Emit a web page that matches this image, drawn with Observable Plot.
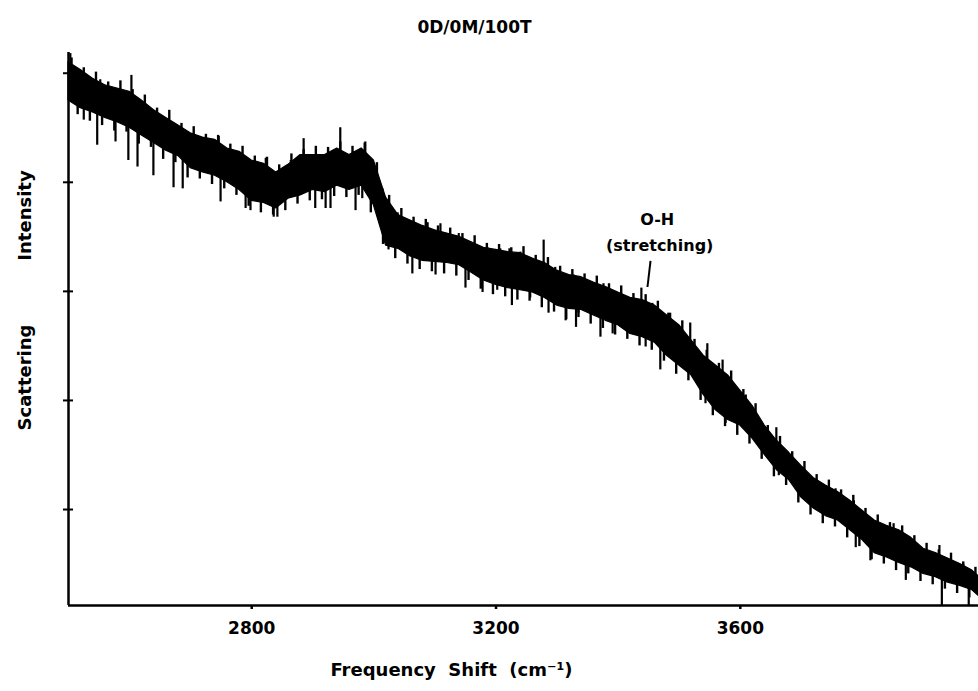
<!DOCTYPE html>
<html><head><meta charset="utf-8">
<script src="https://cdn.jsdelivr.net/npm/d3@7"></script>
<script src="https://cdn.jsdelivr.net/npm/@observablehq/plot@0.6"></script>
<style>body{margin:0;background:#fff}</style>
</head><body><div id="chart"></div>
<script>
const title = "0D/0M/100T";
const xLabel = "Frequency  Shift  (cm⁻¹)";
const yLabelWords = ["Scattering", "Intensity"];
const xTicks = [2800, 3200, 3600];
const yTicks = [100, 200, 300, 400, 500];
const xDomain = [2500, 3990];
const yDomain = [12, 519];

// Raman shift grid (cm-1)
const freq = [2500,2520,2540,2560,2580,2600,2620,2640,2660,2680,2700,2720,2740,2760,2780,2800,2820,2840,2860,2880,2900,2920,2940,2960,2980,3000,3020,3040,3060,3080,3100,3120,3140,3160,3180,3200,3220,3240,3260,3280,3300,3320,3340,3360,3380,3400,3420,3440,3460,3480,3500,3520,3540,3560,3580,3600,3620,3640,3660,3680,3700,3720,3740,3760,3780,3800,3820,3840,3860,3880,3900,3920,3940,3960,3980,3990];
// upper edge of the noisy trace (arb. units)
const upper = [510,503,495,489,486,483,475,466,459,452,445,441,439,431,428,420,417,409,416,425,425,425,431,425,431,420,386,370,365,360,356,353,350,345,340,338,336,335,330,326,319,315,313,308,304,299,294,292,287,278,269,255,241,232,223,209,195,177,163,152,140,129,122,116,108,99,90,85,81,74,64,60,55,50,44,39];
// lower edge of the noisy trace (arb. units)
const lower = [475,468,464,459,455,450,443,436,429,424,413,409,406,400,393,383,381,376,385,388,393,391,397,393,397,379,342,339,332,328,327,326,324,317,310,306,303,301,299,294,287,284,283,278,273,269,261,258,253,241,232,223,205,191,182,177,165,150,136,127,111,101,94,90,81,72,60,56,51,47,41,38,33,30,26,21];

// large noise spikes: position and tip value
const spikeFreq = [2503,2525,2547,2552,2577,2598,2603,2613,2626,2639,2646,2662,2672,2683,2687,2700,2746,2749,2775,2790,2798,2823,2836,2842,2864,2885,2904,2921,2929,2945,2967,2970,2981,2986,3014,3024,3039,3063,3088,3101,3109,3139,3150,3158,3178,3186,3202,3207,3222,3226,3240,3256,3278,3286,3297,3314,3327,3331,3335,3371,3376,3391,3404,3438,3445,3456,3469,3482,3502,3518,3543,3546,3571,3576,3592,3609,3659,3663,3699,3731,3756,3786,3789,3813,3851,3871,3926,3930,3965,3974];
const spikeTip  = [518,457,434,494,437,420,498,414,468,406,460,452,395,450,394,443,442,382,425,376,374,422,368,368,420,440,376,376,376,450,428,374,385,437,394,338,372,316,363,315,362,353,303,345,299,340,301,339,339,287,336,294,347,280,322,273,315,267,280,258,307,261,298,303,249,289,228,280,243,271,197,252,237,179,179,205,175,131,111,117,119,108,65,53,87,35,67,12,50,12];

// small noise teeth along both edges: position and tip value
const teethFreq = [2505,2515,2525,2535,2545,2555,2565,2575,2585,2595,2605,2615,2625,2635,2645,2655,2665,2675,2685,2695,2705,2715,2725,2735,2745,2755,2765,2775,2785,2795,2805,2815,2825,2835,2845,2855,2865,2875,2885,2895,2905,2915,2925,2935,2945,2955,2965,2975,2985,2995,3005,3015,3025,3035,3045,3055,3065,3075,3085,3095,3105,3115,3125,3135,3145,3155,3165,3175,3185,3195,3205,3215,3225,3235,3245,3255,3265,3275,3285,3295,3305,3315,3325,3335,3345,3355,3365,3375,3385,3395,3405,3415,3425,3435,3445,3455,3465,3475,3485,3495,3505,3515,3525,3535,3545,3555,3565,3575,3585,3595,3605,3615,3625,3635,3645,3655,3665,3675,3685,3695,3705,3715,3725,3735,3745,3755,3765,3775,3785,3795,3805,3815,3825,3835,3845,3855,3865,3875,3885,3895,3905,3915,3925,3935,3945,3955,3965,3975,3985];
const teethTip  = [514,462,505,456,501,452,492,447,493,446,485,435,480,432,468,421,466,418,454,404,451,403,444,398,443,394,435,388,433,378,424,372,423,370,416,374,426,380,430,383,433,384,432,387,437,386,433,388,436,372,418,343,388,330,376,325,368,320,366,318,360,316,358,314,353,310,351,302,344,297,343,295,340,292,341,291,333,285,331,281,323,274,320,276,316,270,314,266,307,260,305,256,298,250,297,246,291,236,280,224,273,218,256,200,246,186,234,176,227,168,210,160,197,146,177,130,167,122,153,106,144,95,132,87,127,84,118,74,113,66,101,54,95,50,88,44,85,41,76,34,69,31,63,27,60,23,52,19,47];

// annotation
const annoLines = ["O-H", "(stretching)"];
const annoX = [3464, 3468];
const annoY = [366, 342];
const leader = {x1: 3453, y1: 328, x2: 3448, y2: 304};

const band = freq.map((f, i) => ({freq: f, hi: upper[i], lo: lower[i]}));
function mid(f) {
  let j = d3.bisectLeft(freq, f);
  j = Math.min(Math.max(j, 1), freq.length - 1);
  const a = freq[j - 1], b = freq[j];
  const t = Math.max(0, Math.min(1, (f - a) / (b - a)));
  return ((upper[j - 1] + lower[j - 1]) * (1 - t) + (upper[j] + lower[j]) * t) / 2;
}
const spikes = spikeFreq.map((f, i) => ({freq: f, tip: spikeTip[i], base: mid(f)}));
const teeth = teethFreq.map((f, i) => ({freq: f, tip: teethTip[i], base: mid(f)}));
const annos = annoLines.map((t, i) => ({text: t, x: annoX[i], y: annoY[i]}));

const chart = Plot.plot({
  width: 978,
  height: 691,
  marginLeft: 68,
  marginRight: 0,
  marginTop: 52,
  marginBottom: 86,
  style: {background: "white", color: "black", fontFamily: "'DejaVu Sans', sans-serif", fontSize: "17px", fontWeight: "bold"},
  x: {domain: xDomain},
  y: {domain: yDomain},
  marks: [
    Plot.areaY(band, {x: "freq", y1: "lo", y2: "hi", fill: "black", stroke: "black", strokeWidth: 1.2}),
    Plot.ruleX(teeth, {x: "freq", y1: "base", y2: "tip", stroke: "black", strokeWidth: 2.4}),
    Plot.ruleX(spikes, {x: "freq", y1: "base", y2: "tip", stroke: "black", strokeWidth: 2.2}),
    Plot.ruleX([xDomain[0]], {stroke: "black", strokeWidth: 2.5}),
    Plot.ruleY([yDomain[0]], {stroke: "black", strokeWidth: 2.5}),
    Plot.axisY({ticks: yTicks, tickSize: 10, dx: 5, tickFormat: () => "", label: null, strokeWidth: 2}),
    Plot.axisX({ticks: xTicks, tickSize: 4, tickPadding: 12, tickFormat: d => String(d), label: null, strokeWidth: 2.5, fontSize: 17}),
    Plot.link([leader], {x1: "x1", y1: "y1", x2: "x2", y2: "y2", stroke: "black", strokeWidth: 2}),
    Plot.text(annos, {x: "x", y: "y", text: "text", fontSize: 16, fontWeight: "bold"}),
    Plot.text([title], {frameAnchor: "top-left", dx: 406, dy: -25, textAnchor: "middle", lineAnchor: "middle", text: d => d, fontSize: 17, fontWeight: "bold"}),
    Plot.text([xLabel], {frameAnchor: "top-left", dx: 383, dy: 618, textAnchor: "middle", lineAnchor: "middle", text: d => d, fontSize: 18, fontWeight: "bold"}),
    Plot.text([yLabelWords[1]], {frameAnchor: "top-left", dx: -43, dy: 163, textAnchor: "middle", lineAnchor: "middle", rotate: -90, text: d => d, fontSize: 18, fontWeight: "bold"}),
    Plot.text([yLabelWords[0]], {frameAnchor: "top-left", dx: -43, dy: 325, textAnchor: "middle", lineAnchor: "middle", rotate: -90, text: d => d, fontSize: 18, fontWeight: "bold"})
  ]
});
document.getElementById("chart").appendChild(chart);
</script>
</body></html>
